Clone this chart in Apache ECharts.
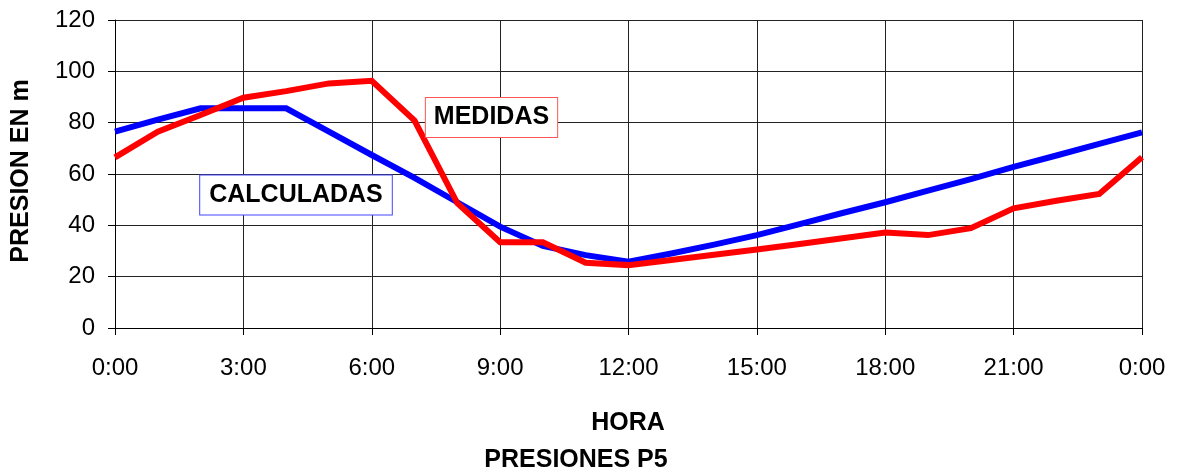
<!DOCTYPE html>
<html>
<head>
<meta charset="utf-8">
<script src="https://cdn.jsdelivr.net/npm/echarts@6/dist/echarts.min.js"></script>
<style>
html,body{margin:0;padding:0;background:#fff;}
#c{width:1178px;height:473px;}
</style>
</head>
<body>
<div id="c"></div>
<script>
// ---- data ----
const hours = [0,1,2,3,4,5,6,7,8,9,10,11,12,13,14,15,16,17,18,19,20,21,22,23,24];
const calculadas = [76.5,81.2,85.6,85.6,85.6,76.5,67.4,58.5,49,39.5,32,28.4,25.8,29,32.5,36.2,40.5,44.8,49,53.5,58,62.8,67.2,71.7,76.2];
const medidas = [66.5,76.5,83,89.7,92.3,95.3,96.3,80.8,48.6,33.4,33.4,25.4,24.5,26.5,28.5,30.6,32.7,35,37.2,36.2,38.9,46.6,49.6,52.2,66.5];
const seriesNames = ['CALCULADAS','MEDIDAS'];
const xTitle = 'HORA';
const yTitle = 'PRESION EN m';
const chartTitle = 'PRESIONES P5';

const FONT = '"Liberation Sans", Arial, sans-serif';
const chart = echarts.init(document.getElementById('c'), null, {renderer:'canvas'});

function pairs(vals){ return hours.map((h,i)=>[h, vals[i]]); }

chart.setOption({
  animation:false,
  backgroundColor:'#fff',
  grid:{left:115,right:36,top:20,bottom:145,containLabel:false,outerBoundsMode:'none'},
  xAxis:{
    type:'value',min:0,max:24,interval:3,
    axisLine:{show:true,onZero:false,lineStyle:{color:'#000',width:1}},
    axisTick:{show:true,length:7,lineStyle:{color:'#000'}},
    axisLabel:{color:'#000',fontFamily:FONT,fontSize:24,margin:28,
      formatter:v=>(v%24)+':00'},
    splitLine:{show:true,lineStyle:{color:'#222',width:1}}
  },
  yAxis:{
    type:'value',min:0,max:120,interval:20,
    axisLine:{show:true,onZero:false,lineStyle:{color:'#000',width:1}},
    axisTick:{show:true,length:7,lineStyle:{color:'#000'}},
    axisLabel:{color:'#000',fontFamily:FONT,fontSize:24,margin:20},
    splitLine:{show:true,lineStyle:{color:'#222',width:1}}
  },
  series:[
    {name:seriesNames[0],type:'line',data:pairs(calculadas),symbol:'none',
      lineStyle:{color:'#0000FF',width:6,join:'miter'},z:2},
    {name:seriesNames[1],type:'line',data:pairs(medidas),symbol:'none',
      lineStyle:{color:'#FF0000',width:6,join:'miter'},z:3}
  ],
  graphic:[
    {type:'text',x:628,y:423,z:10,
      style:{text:xTitle,font:'bold 25px '+FONT,fill:'#000',textAlign:'center',textVerticalAlign:'middle'}},
    {type:'text',x:576,y:460,z:10,
      style:{text:chartTitle,font:'bold 25px '+FONT,fill:'#000',textAlign:'center',textVerticalAlign:'middle'}},
    {type:'text',x:21,y:171,rotation:Math.PI/2,z:10,
      style:{text:yTitle,font:'bold 25px '+FONT,fill:'#000',textAlign:'center',textVerticalAlign:'middle'}},
    {type:'text',x:491.5,y:117.5,z:20,
      style:{text:seriesNames[1],font:'bold 25px '+FONT,fill:'#000',textAlign:'center',textVerticalAlign:'middle',
        backgroundColor:'#fff',borderColor:'#FF5555',borderWidth:1,padding:[7,8,7,8]}},
    {type:'text',x:296,y:195,z:20,
      style:{text:seriesNames[0],font:'bold 25px '+FONT,fill:'#000',textAlign:'center',textVerticalAlign:'middle',
        backgroundColor:'#fff',borderColor:'#4444FF',borderWidth:1,padding:[7,9,7,9]}}
  ]
});
</script>
</body>
</html>
